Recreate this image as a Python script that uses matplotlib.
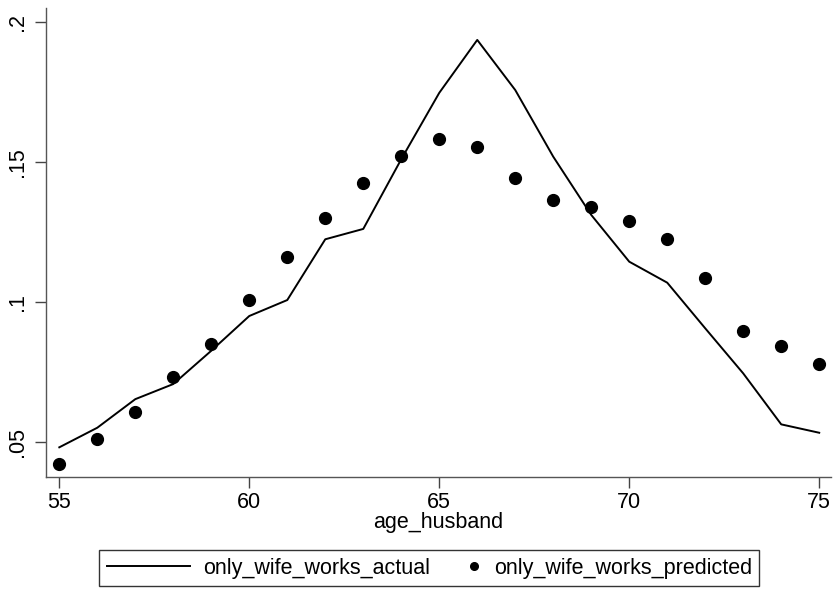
import matplotlib
matplotlib.use("Agg")
import numpy as np
import matplotlib.pyplot as plt
from matplotlib.lines import Line2D
from matplotlib.legend_handler import HandlerLine2D

plt.rcParams['font.family'] = ['Liberation Sans', 'DejaVu Sans']

age_husband = list(range(55, 76))
actual = [0.0482, 0.0552, 0.0654, 0.0708, 0.0827, 0.0951, 0.1008, 0.1225, 0.1262,
          0.1511, 0.1748, 0.1937, 0.1758, 0.1520, 0.1312, 0.1145, 0.1070, 0.0907,
          0.0746, 0.0564, 0.0534]
predicted = [0.0422, 0.0512, 0.0608, 0.0733, 0.0851, 0.1008, 0.1162, 0.1301, 0.1425,
             0.1521, 0.1583, 0.1555, 0.1445, 0.1366, 0.1339, 0.1290, 0.1225, 0.1086,
             0.0899, 0.0844, 0.0779]
xticks = [55, 60, 65, 70, 75]
yticks = [0.05, 0.1, 0.15, 0.2]
ytick_labels = ['.05', '.1', '.15', '.2']
legend_labels = ['only_wife_works_actual', 'only_wife_works_predicted']

FS = 15.5
W, H = 835, 592
fig = plt.figure(figsize=(W / 100, H / 100), dpi=100)
ax = fig.add_axes([46 / W, 1 - 477 / H, (831 - 46) / W, (477 - 8) / H])

ax.plot(age_husband, actual, color='black', lw=1.4)
ax.plot(age_husband, predicted, 'o', color='black', markersize=8.5, lw=0)

ax.set_xlim(54.65, 75.31)
ax.set_ylim(0.0376, 0.2051)
ax.set_xticks(xticks)
ax.set_xticklabels([str(t) for t in xticks])
ax.set_yticks(yticks)
ax.set_yticklabels(ytick_labels, rotation=90, va='center')

for s in ['top', 'right']:
    ax.spines[s].set_visible(False)
for s in ['left', 'bottom']:
    ax.spines[s].set_color('#555555')
    ax.spines[s].set_linewidth(1.0)
ax.tick_params(axis='both', length=8, width=1.0, color='#444444', labelsize=FS,
               labelcolor='black', direction='out')
ax.tick_params(axis='x', pad=3)
ax.tick_params(axis='y', pad=5)

ax.set_xlabel('age_husband', fontsize=FS, labelpad=-1)


class RightMarkerHandler(HandlerLine2D):
    def get_xdata(self, legend, xdescent, ydescent, width, height, fontsize):
        c = -xdescent + width - 4
        xd = np.array([c - 1.0, c + 1.0])
        return xd, np.array([c])


line_h = Line2D([0], [0], color='black', lw=1.4)
dot_h = Line2D([0], [0], marker='o', color='black', lw=0, markersize=5.5)
leg = fig.legend([line_h, dot_h], legend_labels,
                 loc='upper left', bbox_to_anchor=(99 / W, 1 - 550 / H), ncol=2,
                 fontsize=FS, frameon=True, fancybox=False, edgecolor='black',
                 handlelength=3.86, handletextpad=0.65, columnspacing=-1.58,
                 borderpad=0.35, borderaxespad=0,
                 handler_map={dot_h: RightMarkerHandler()})
leg.get_frame().set_linewidth(1.0)

fig.savefig('out.png', dpi=100)
